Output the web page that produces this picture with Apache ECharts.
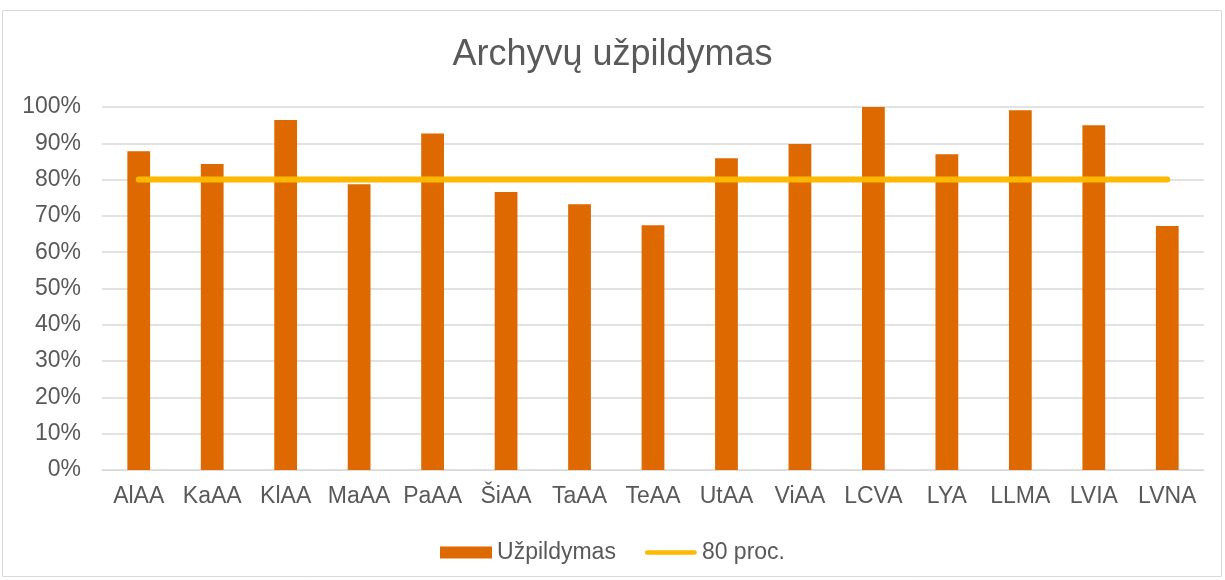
<!DOCTYPE html>
<html><head><meta charset="utf-8">
<script src="https://cdn.jsdelivr.net/npm/echarts@6/dist/echarts.min.js"></script>
<style>html,body{margin:0;padding:0;background:#fff}#c{width:1225px;height:580px}</style>
</head><body><div id="c"></div>
<script>
const categories = ["AlAA","KaAA","KlAA","MaAA","PaAA","ŠiAA","TaAA","TeAA","UtAA","ViAA","LCVA","LYA","LLMA","LVIA","LVNA"];
const fillValues = [87.8,84.3,96.4,78.7,92.7,76.6,73.2,67.4,85.9,89.8,100,87.0,99.1,95.0,67.2];
const targetValues = [80,80,80,80,80,80,80,80,80,80,80,80,80,80,80];
const yTicks = [0,10,20,30,40,50,60,70,80,90,100];
const font = "Liberation Sans, Arial, sans-serif";
const chart = echarts.init(document.getElementById('c'));
chart.setOption({
  animation:false,
  backgroundColor:'#fff',
  graphic:[{type:'rect',shape:{x:2.5,y:10.5,width:1219,height:566},style:{fill:'none',stroke:'#d9d9d9',lineWidth:1}}],
  title:{text:'Archyvų užpildymas',left:'center',top:32,textStyle:{fontFamily:font,fontSize:36,fontWeight:'normal',color:'#595959'}},
  grid:{left:102,right:21,top:107,bottom:110},
  legend:{top:536,left:'center',itemGap:29,textStyle:{fontFamily:font,fontSize:23,color:'#595959'},
    data:[{name:'Užpildymas',icon:'rect',itemStyle:{color:'#DD6900'}},
          {name:'80 proc.',icon:'path://M2.5,0 L52.5,0 A2.5,2.5 0 0 1 52.5,5 L2.5,5 A2.5,2.5 0 0 1 2.5,0 Z',itemStyle:{color:'#FFB800'}}],
    itemWidth:52,itemHeight:12},
  xAxis:{type:'category',data:categories,
    axisLine:{lineStyle:{color:'#d9d9d9',width:1}},axisTick:{show:false},
    axisLabel:{fontFamily:font,fontSize:23,color:'#595959',margin:15,interval:0}},
  yAxis:{type:'value',min:0,max:100,interval:10,
    axisLine:{show:false},axisTick:{show:false},
    splitLine:{lineStyle:{color:'#d9d9d9',width:1.5}},
    axisLabel:{fontFamily:font,fontSize:23,color:'#595959',margin:21,formatter:v=>yTicks.includes(v)?v+'%':''}},
  series:[
    {name:'Užpildymas',type:'bar',data:fillValues,barWidth:'31%',itemStyle:{color:'#DD6900'}},
    {name:'80 proc.',type:'line',data:targetValues,symbol:'none',z:5,
      lineStyle:{color:'#FFB800',width:6,cap:'round'},itemStyle:{color:'#FFB800'}}
  ]
});
</script></body></html>
